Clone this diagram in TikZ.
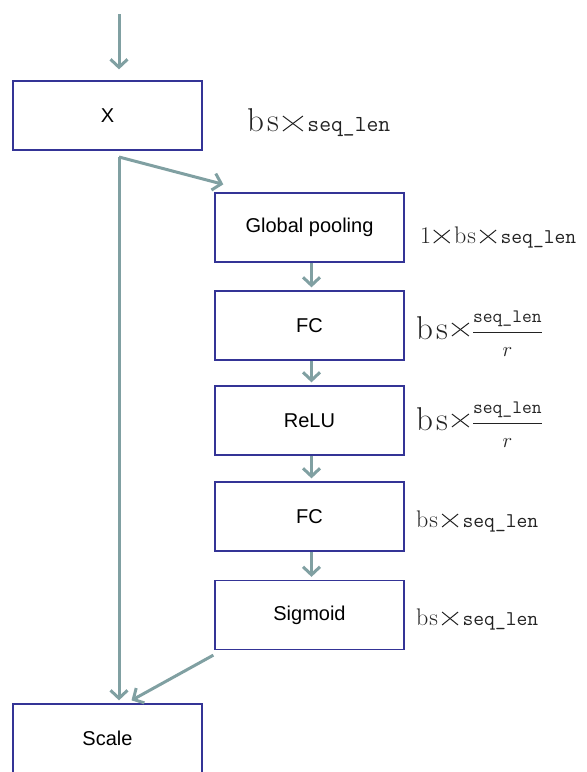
\documentclass[tikz,border=0pt]{standalone}
\usepackage{fontspec}
\setsansfont{Liberation Sans}
\usepackage{amsmath}
\usepackage{pict2e}
\usetikzlibrary{arrows.meta}
\definecolor{boxblue}{RGB}{52,52,150}
\definecolor{arrgray}{RGB}{128,160,162}
\definecolor{lbltext}{RGB}{35,35,35}
\tikzset{
  blk/.style={draw=boxblue, line width=1.3pt, fill=white, minimum width=189pt, minimum height=69pt, inner sep=0pt, font=\sffamily\fontsize{20}{22}\selectfont},
  arr/.style={draw=arrgray, line width=3pt, -{Straight Barb[length=8pt,width=17pt,line width=3pt]}},
  lbl/.style={anchor=base west, inner sep=0pt, text=lbltext},
}
% a wide, flat times sign: #1 width, #2 height (in pt), sitting on the baseline
\newcommand{\mytimes}[2]{{\setlength{\unitlength}{1pt}\linethickness{1pt}\begin{picture}(#1,#2)\Line(0,0)(#1,#2)\Line(0,#2)(#1,0)\end{picture}}}
\newcommand{\tmsS}{\hspace{4pt}\mytimes{16}{13}\hspace{4.5pt}}
\newcommand{\bsS}{{\fontsize{24}{24}\selectfont b\hspace{1pt}s}\tmsS}
\newcommand{\bsL}{{\fontsize{33}{33}\selectfont b\hspace{3pt}s}}
\newcommand{\seqS}{{\ttfamily\fontsize{21}{24}\selectfont seq\_len}}
\newcommand{\seqfrac}{\bsL\hspace{4pt}\raisebox{3pt}{\mytimes{17}{13}}\hspace{3pt}{\fontsize{26}{28}\selectfont$\displaystyle\frac{\text{\ttfamily\fontsize{19}{20}\selectfont seq\_len}}{\text{\fontsize{22}{22}\selectfont$r$}}$}}
\begin{document}
\begin{tikzpicture}[x=1pt,y=-1pt]
\useasboundingbox (0,0) rectangle (587,772);
\node[blk] (X) at (107.5,115.5) {X};
\node[blk] (GP) at (309.5,227.5) {Global pooling};
\node[blk] (FC1) at (309.5,325.5) {FC};
\node[blk] (RL) at (309.5,420.5) {ReLU};
\node[blk] (FC2) at (309.5,516.5) {FC};
\node[blk] (SG) at (309.5,615) {Sigmoid};
\node[blk] (SC) at (107.5,738.5) {Scale};

\coordinate (top) at (119,14);
\coordinate (split) at (119,157);

\draw[arr] (top) -- ([yshift=11pt]X.north -| top);
\draw[arr] (split) -- ([shift={(9pt,8pt)}]GP.north west);
\draw[arr] (split) -- ([yshift=3pt]SC.north -| split);
\draw[arr] ([xshift=2pt]GP.south) -- ([xshift=2pt,yshift=3pt]FC1.north);
\draw[arr] ([xshift=2pt]FC1.south) -- ([xshift=2pt,yshift=3pt]RL.north);
\draw[arr] ([xshift=2pt]RL.south) -- ([xshift=2pt,yshift=3pt]FC2.north);
\draw[arr] ([xshift=2pt]FC2.south) -- ([xshift=2pt,yshift=3pt]SG.north);
\draw[arr] ([shift={(-1pt,-5pt)}]SG.south west) -- ([shift={(24pt,3pt)}]SC.north);

\node[lbl] (lX) at (247,131) {\bsL\hspace{4pt}\mytimes{20}{15}\hspace{4.5pt}{\ttfamily\fontsize{23}{24}\selectfont seq\_len}};
\node[lbl] (lGP) at (420,243) {{\fontsize{24}{24}\selectfont 1}\hspace{-1.5pt}\tmsS\bsS\seqS};
\node[lbl] (lFC1) at (416,339) {\seqfrac};
\node[lbl] (lRL) at (416,430) {\seqfrac};
\node[lbl] (lFC2) at (416,527) {\bsS\seqS};
\node[lbl] (lSG) at (416,625) {\bsS\seqS};
\end{tikzpicture}
\end{document}
